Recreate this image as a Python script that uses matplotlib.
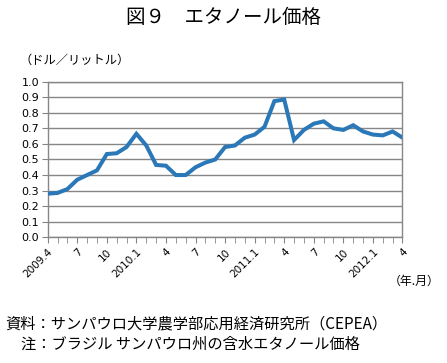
import matplotlib
matplotlib.use("Agg")
import matplotlib.pyplot as plt

plt.rcParams['font.family'] = ['Noto Sans CJK JP', 'DejaVu Sans']

# 月次エタノール価格 2009.4 - 2012.4
prices = [0.28, 0.285, 0.31, 0.37, 0.40, 0.43, 0.535, 0.54, 0.58, 0.665,
          0.59, 0.465, 0.46, 0.40, 0.40, 0.45, 0.48, 0.50, 0.58, 0.59,
          0.64, 0.66, 0.71, 0.875, 0.885, 0.625, 0.69, 0.73, 0.745, 0.70,
          0.69, 0.72, 0.68, 0.66, 0.655, 0.68, 0.64]
tick_labels = ["2009.4", "7", "10", "2010.1", "4", "7", "10",
               "2011.1", "4", "7", "10", "2012.1", "4"]
y_ticks = [0.0, 0.1, 0.2, 0.3, 0.4, 0.5, 0.6, 0.7, 0.8, 0.9, 1.0]

fig = plt.figure(figsize=(4.47, 3.63), dpi=100)
ax = fig.add_axes([0.1067, 0.3463, 0.7937, 0.4287])

x = list(range(len(prices)))
ax.plot(x, prices, color="#2a78b8", lw=2.9, solid_joinstyle="miter", zorder=3)

ax.set_xlim(0, len(prices) - 1)
ax.set_ylim(0, 1.0)
ax.set_yticks(y_ticks)
ax.set_yticklabels([f"{v:.1f}" for v in y_ticks], family="DejaVu Sans", fontsize=8)
ax.set_xticks(x, minor=True)
ax.set_xticks(x[::3])
ax.set_xticklabels(tick_labels, rotation=45, ha="right", rotation_mode="anchor",
                   family="DejaVu Sans", fontsize=7.5)
ax.tick_params(axis="x", which="both", length=4, color="#868686", pad=3)
ax.tick_params(axis="y", length=4, color="#868686", pad=2)

ax.grid(axis="y", color="#868686", lw=1)
ax.set_axisbelow(True)
for s in ["left", "right", "bottom", "top"]:
    ax.spines[s].set_color("#868686")
    ax.spines[s].set_linewidth(1)

fig.text(224 / 447, 1 - 17 / 363, "図９　エタノール価格", fontsize=14,
         ha="center", va="center")
fig.text(19 / 447, 1 - 60 / 363, "（ドル／リットル）", fontsize=8.8,
         ha="left", va="center")
fig.text(440 / 447, 1 - 281 / 363, "（年.月）", fontsize=8.6,
         ha="right", va="center")
fig.text(5 / 447, 1 - 324 / 363, "資料：サンパウロ大学農学部応用経済研究所（CEPEA）",
         fontsize=11, ha="left", va="center")
fig.text(21 / 447, 1 - 344 / 363, "注：ブラジル サンパウロ州の含水エタノール価格",
         fontsize=11, ha="left", va="center")

fig.savefig("out.png", dpi=100)
